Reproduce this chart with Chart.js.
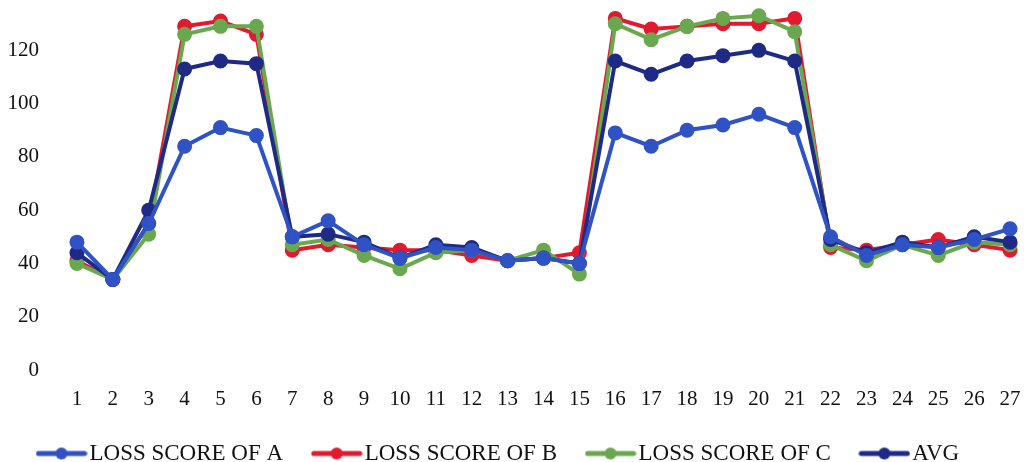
<!DOCTYPE html>
<html>
  <head>
    <meta charset="UTF-8">
    <script src="https://cdn.jsdelivr.net/npm/chart.js@4.4.0/dist/chart.umd.min.js"></script>
    <title>Loss scores</title>
    <style>
      html, body { margin: 0; padding: 0; background: #fff; }
      #wrap { width: 1028px; height: 462px; }
    </style>
  </head>
  <body>
    <div id="wrap"><canvas id="lossChart"></canvas></div>
    <script>
      // values
      var labels = ['1','2','3','4','5','6','7','8','9','10','11','12','13','14','15','16','17','18','19','20','21','22','23','24','25','26','27'];
      var lossA = [48, 34, 55, 84, 91, 88, 50, 56, 47, 42, 46, 45, 41, 42, 40, 89, 84, 90, 92, 96, 91, 50, 43, 47, 46, 49, 53];
      var lossB = [41, 34, 55, 129, 131, 126, 45, 47, 46, 45, 45, 43, 41, 42, 44, 132, 128, 129, 130, 130, 132, 46, 45, 47, 49, 47, 45];
      var lossC = [40, 34, 51, 126, 129, 129, 47, 49, 43, 38, 44, 45, 41, 45, 36, 130, 124, 129, 132, 133, 127, 47, 41, 47, 43, 48, 47];
      var avg   = [44, 34, 60, 113, 116, 115, 50, 51, 48, 42, 47, 46, 41, 42, 40, 116, 111, 116, 118, 120, 116, 49, 44, 48, 46, 50, 48];
      var yTicks = [0, 20, 40, 60, 80, 100, 120];

      var colA = '#2f52c4';
      var colB = '#e3192f';
      var colC = '#6aa84f';
      var colAvg = '#1f2a86';

      // little line-with-dot marker for the legend
      function makeMarker(color) {
        var c = document.createElement('canvas');
        c.width = 52; c.height = 14;
        var g = c.getContext('2d');
        g.strokeStyle = color;
        g.lineWidth = 5;
        g.lineCap = 'round';
        g.beginPath(); g.moveTo(3, 7); g.lineTo(49, 7); g.stroke();
        g.fillStyle = color;
        g.beginPath(); g.arc(26, 7, 6, 0, Math.PI * 2); g.fill();
        return c;
      }
      var markers = [makeMarker(colA), makeMarker(colB), makeMarker(colC), makeMarker(colAvg)];

      function ds(label, data, color, order) {
        return {
          label: label,
          data: data,
          order: order,
          borderColor: color,
          backgroundColor: color,
          borderWidth: 4,
          pointRadius: 5.5,
          pointBackgroundColor: color,
          pointBorderColor: color,
          tension: 0,
          clip: false
        };
      }

      var serif = "'Liberation Serif', 'Times New Roman', serif";

      var ctx = document.getElementById('lossChart').getContext('2d');
      var myChart = new Chart(ctx, {
        type: 'line',
        data: {
          labels: labels,
          datasets: [
            ds('LOSS SCORE OF A', lossA, colA, 0),
            ds('LOSS SCORE OF B', lossB, colB, 3),
            ds('LOSS SCORE OF C', lossC, colC, 2),
            ds('AVG', avg, colAvg, 1)
          ]
        },
        options: {
          responsive: true,
          maintainAspectRatio: false,
          animation: false,
          layout: { autoPadding: false, padding: { left: 8, right: 0, top: 0, bottom: -13 } },
          scales: {
            x: {
              offset: true,
              grid: { display: false, drawTicks: false },
              border: { display: false },
              ticks: { color: '#111', font: { family: serif, size: 21 }, padding: 17, maxRotation: 0, autoSkip: false },
              afterFit: function (scale) { scale.height = 35; scale.paddingLeft = 0; scale.paddingRight = 0; }
            },
            y: {
              min: 0,
              max: 138.9,
              afterBuildTicks: function (scale) {
                scale.ticks = yTicks.map(function (v) { return { value: v }; });
              },
              afterFit: function (scale) { scale.width = 51; scale.paddingTop = 0; scale.paddingBottom = 0; },
              grid: { display: false, drawTicks: false },
              border: { display: false },
              ticks: { color: '#111', font: { family: serif, size: 21 }, padding: 20 }
            }
          },
          plugins: {
            tooltip: { enabled: false },
            legend: {
              position: 'bottom',
              align: 'start',
              labels: {
                color: '#111',
                font: { family: serif, size: 23 },
                usePointStyle: true,
                pointStyleWidth: 33,
                boxHeight: 14,
                padding: 37,
                sort: function (a, b) { return a.datasetIndex - b.datasetIndex; },
                generateLabels: function (chart) {
                  var items = Chart.defaults.plugins.legend.labels.generateLabels(chart);
                  items.forEach(function (item) { item.pointStyle = markers[item.datasetIndex]; });
                  return items;
                }
              }
            }
          }
        }
      });
    </script>
  </body>
</html>
